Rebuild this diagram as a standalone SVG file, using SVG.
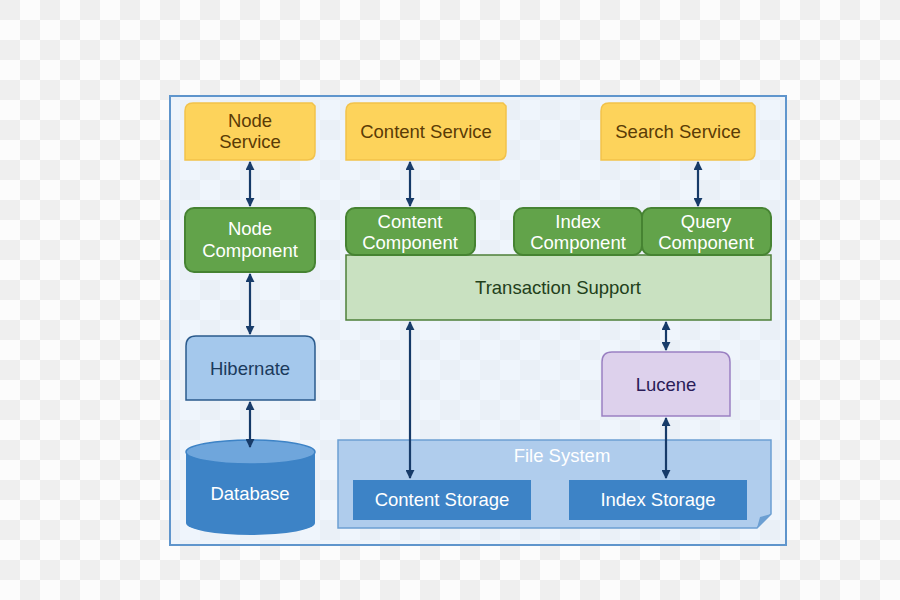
<svg xmlns="http://www.w3.org/2000/svg" width="900" height="600" viewBox="0 0 900 600">
<defs>
<pattern id="chk" x="0" y="0" width="40" height="40" patternUnits="userSpaceOnUse">
<rect width="40" height="40" fill="#fcfcfc"/>
<rect width="20" height="20" fill="#efefef"/>
<rect x="20" y="20" width="20" height="20" fill="#efefef"/>
</pattern>
<marker id="ah" viewBox="0 0 10 10" refX="9" refY="5" markerWidth="9" markerHeight="9" markerUnits="userSpaceOnUse" orient="auto-start-reverse">
<path d="M0,0 L10,5 L0,10 Z" fill="#173b69"/>
</marker>
</defs>
<style>
text{font-family:"Liberation Sans",Arial,sans-serif;font-size:18.5px;text-anchor:middle}
.svc{fill:#fdd35b;stroke:#f2c24a;stroke-width:1.5}
.svct{fill:#5a3b06}
.cmp{fill:#62a34a;stroke:#468332;stroke-width:2}
.cmpt{fill:#ffffff}
.conn line{stroke:#173b69;stroke-width:2.2}
</style>
<rect width="900" height="600" fill="url(#chk)"/>
<rect x="170" y="96" width="616" height="449" fill="#e6f0fb" fill-opacity="0.6" stroke="#5f95cc" stroke-width="2"/>

<g id="node-service"><path class="svc" d="M193,103 H312 L315,106 V152 Q315,160 307,160 H185 V111 Q185,103 193,103 Z"/><text class="svct" x="250" y="127">Node</text><text class="svct" x="250" y="148">Service</text></g>
<g id="content-service"><path class="svc" d="M354,103 H503 L506,106 V152 Q506,160 498,160 H346 V111 Q346,103 354,103 Z"/><text class="svct" x="426" y="138">Content Service</text></g>
<g id="search-service"><path class="svc" d="M609,103 H752 L755,106 V152 Q755,160 747,160 H601 V111 Q601,103 609,103 Z"/><text class="svct" x="678" y="138">Search Service</text></g>

<g id="transaction-support"><rect x="346" y="255" width="425" height="65" fill="#c9e1c1" stroke="#4d7f38" stroke-width="1.5"/><text x="558" y="294" fill="#22401a">Transaction Support</text></g>

<g id="node-component"><rect class="cmp" x="185" y="208" width="130" height="64" rx="9"/><text class="cmpt" x="250" y="235">Node</text><text class="cmpt" x="250" y="257">Component</text></g>
<g id="content-component"><rect class="cmp" x="346" y="208" width="129" height="47" rx="9"/><text class="cmpt" x="410" y="228">Content</text><text class="cmpt" x="410" y="249">Component</text></g>
<g id="index-component"><rect class="cmp" x="514" y="208" width="128" height="47" rx="9"/><text class="cmpt" x="578" y="228">Index</text><text class="cmpt" x="578" y="249">Component</text></g>
<g id="query-component"><rect class="cmp" x="642" y="208" width="129" height="47" rx="9"/><text class="cmpt" x="706" y="228">Query</text><text class="cmpt" x="706" y="249">Component</text></g>

<g id="hibernate"><path d="M196,336 H305 Q315,336 315,346 V400 H186 V346 Q186,336 196,336 Z" fill="#a4c8ec" stroke="#2a5a8c" stroke-width="1.5"/><text x="250" y="375" fill="#1b3a5c">Hibernate</text></g>

<g id="database"><path d="M186,452 V523 A64.5,12 0 0 0 315,523 V452" fill="#3d83c6"/><ellipse cx="250.5" cy="452" rx="64.5" ry="12" fill="#6fa6dc" stroke="#3d83c6" stroke-width="1.5"/><text x="250" y="500" fill="#ffffff">Database</text></g>

<g id="lucene"><path d="M612,352 H720 Q730,352 730,362 V416 H602 V362 Q602,352 612,352 Z" fill="#ddd1ec" stroke="#9a80c2" stroke-width="1.5"/><text x="666" y="391" fill="#2a1c58">Lucene</text></g>

<g id="file-system"><path d="M338,440 H771 V514 L757,528 H338 Z" fill="#a5c6ea" fill-opacity="0.85" stroke="#6c9fd2" stroke-width="1.5"/><path d="M757,528 L760,517 L771,514 Z" fill="#6c9fd2"/><text x="562" y="462" fill="#ffffff">File System</text></g>
<g id="content-storage"><rect x="353" y="480" width="178" height="40" fill="#3d83c6"/><text x="442" y="506" fill="#ffffff">Content Storage</text></g>
<g id="index-storage"><rect x="569" y="480" width="178" height="40" fill="#3d83c6"/><text x="658" y="506" fill="#ffffff">Index Storage</text></g>

<g id="connectors" class="conn">
<line x1="250" y1="162" x2="250" y2="206" marker-start="url(#ah)" marker-end="url(#ah)"/>
<line x1="410" y1="162" x2="410" y2="206" marker-start="url(#ah)" marker-end="url(#ah)"/>
<line x1="698" y1="162" x2="698" y2="206" marker-start="url(#ah)" marker-end="url(#ah)"/>
<line x1="250" y1="274" x2="250" y2="334" marker-start="url(#ah)" marker-end="url(#ah)"/>
<line x1="250" y1="402" x2="250" y2="447" marker-start="url(#ah)" marker-end="url(#ah)"/>
<line x1="410" y1="322" x2="410" y2="478" marker-start="url(#ah)" marker-end="url(#ah)"/>
<line x1="666" y1="322" x2="666" y2="350" marker-start="url(#ah)" marker-end="url(#ah)"/>
<line x1="666" y1="418" x2="666" y2="478" marker-start="url(#ah)" marker-end="url(#ah)"/>
</g>
</svg>
